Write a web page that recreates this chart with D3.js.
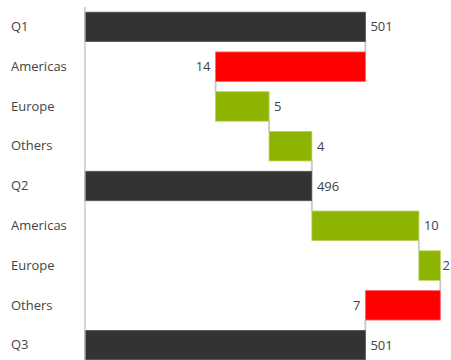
<!DOCTYPE html>
<html>
<head>
<meta charset="utf-8">
<script src="https://cdn.jsdelivr.net/npm/d3@7"></script>
<style>
  html, body { margin: 0; padding: 0; background: #fff; }
  svg { display: block; }
  text { font-family: "Open Sans", "Noto Sans", sans-serif; }
</style>
</head>
<body>
<svg id="chart" width="451" height="360"></svg>
<script>
// Quarterly waterfall: totals per quarter and regional changes in between
const categories = ["Q1", "Americas", "Europe", "Others", "Q2", "Americas", "Europe", "Others", "Q3"];
const kinds      = ["total", "delta", "delta", "delta", "total", "delta", "delta", "delta", "total"];
const values     = [501, -14, 5, 4, 496, 10, 2, -7, 501];
const xDomain    = [474.8, 509];

const colors = { total: "#333333", up: "#8db400", down: "#ff0000" };

const svg = d3.select("#chart");
const W = 451, H = 360;
const left = 85;

const x = d3.scaleLinear().domain(xDomain).range([left, W]);
const y = d3.scaleBand().domain(d3.range(categories.length))
  .range([7, 365]).paddingInner(0.26).paddingOuter(0.13);

// running start/end for every step
let running = 0;
const steps = values.map((v, i) => {
  let start, end;
  if (kinds[i] === "total") { start = xDomain[0]; end = v; running = v; }
  else { start = running; end = running + v; running = end; }
  return { i, v, kind: kinds[i], start, end };
});

// connectors between consecutive bars
const conn = svg.append("g");
steps.slice(0, -1).forEach((s, k) => {
  conn.append("line")
    .attr("x1", x(s.end)).attr("x2", x(s.end))
    .attr("y1", y(k) + y.bandwidth())
    .attr("y2", y(k + 1))
    .attr("stroke", "#cccccc").attr("stroke-width", 2);
});

// bars
svg.append("g").selectAll("rect").data(steps).join("rect")
  .attr("x", d => x(Math.min(d.start, d.end)))
  .attr("width", d => Math.abs(x(d.end) - x(d.start)))
  .attr("y", d => y(d.i))
  .attr("height", y.bandwidth())
  .attr("fill", d => d.kind === "total" ? colors.total : (d.v < 0 ? colors.down : colors.up))
  .attr("stroke", d => d.kind === "total" ? "#555" : (d.v < 0 ? "#ff6666" : "#b5d05a"))
  .attr("stroke-width", 0.8);

// value labels (kept inside the drawing area on the right)
svg.append("g").selectAll("text").data(steps).join("text")
  .attr("y", d => y(d.i) + y.bandwidth() / 2)
  .attr("dy", "0.35em")
  .attr("fill", "#444444")
  .attr("font-size", 13)
  .text(d => Math.abs(d.v))
  .each(function (d) {
    const t = d3.select(this);
    if (d.v < 0) {
      t.attr("x", x(d.end) - 5).attr("text-anchor", "end");
    } else {
      const w = this.getComputedTextLength();
      t.attr("x", Math.min(x(d.end) + 5, W - 1 - w)).attr("text-anchor", "start");
    }
  });

// category axis
const axis = svg.append("g")
  .attr("transform", `translate(${left},0)`)
  .call(d3.axisLeft(y).tickSize(0).tickFormat(i => categories[i]));
axis.select(".domain").attr("stroke", "#bbbbbb").attr("stroke-width", 1.2)
  .attr("d", `M0,7V${H}`);
axis.selectAll(".tick text")
  .attr("x", 11 - left)
  .attr("text-anchor", "start")
  .attr("fill", "#444444")
  .attr("font-size", 13)
  .style("font-family", "'Open Sans', 'Noto Sans', sans-serif");
</script>
</body>
</html>
